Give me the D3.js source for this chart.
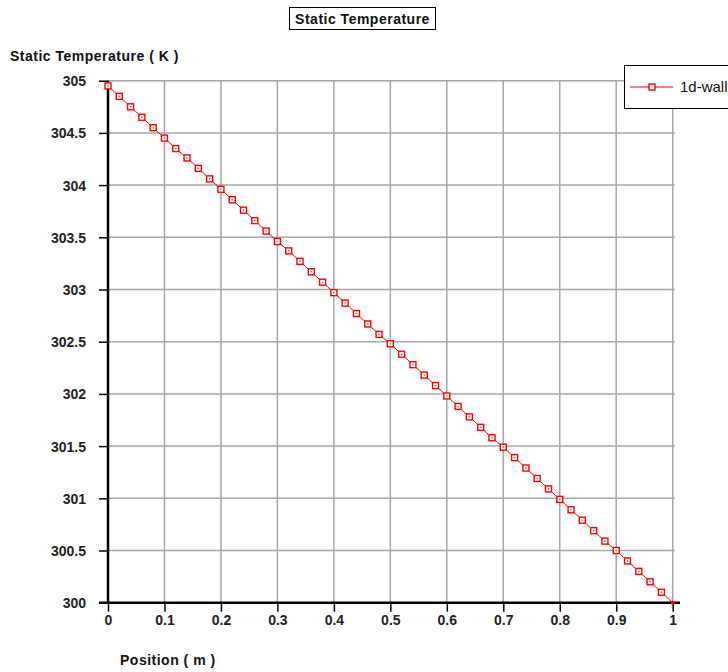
<!DOCTYPE html>
<html>
<head>
<meta charset="utf-8">
<script src="https://cdn.jsdelivr.net/npm/d3@7"></script>
<style>
  body { margin: 0; background: #fff; }
  svg { display: block; font-family: "Liberation Sans", Arial, sans-serif; }
  .bold { font-weight: bold; font-size: 14px; }
  .title { font-weight: bold; font-size: 14px; letter-spacing: 0.5px; }
</style>
</head>
<body>
<svg width="728" height="672"></svg>
<script>
// Data
const positions = [0, 0.02, 0.04, 0.06, 0.08, 0.1, 0.12, 0.14, 0.16, 0.18,
  0.2, 0.22, 0.24, 0.26, 0.28, 0.3, 0.32, 0.34, 0.36, 0.38,
  0.4, 0.42, 0.44, 0.46, 0.48, 0.5, 0.52, 0.54, 0.56, 0.58,
  0.6, 0.62, 0.64, 0.66, 0.68, 0.7, 0.72, 0.74, 0.76, 0.78,
  0.8, 0.82, 0.84, 0.86, 0.88, 0.9, 0.92, 0.94, 0.96, 0.98, 1];
const temps = [304.95, 304.85, 304.75, 304.65, 304.55, 304.45, 304.35, 304.26, 304.16, 304.06,
  303.96, 303.86, 303.76, 303.66, 303.56, 303.46, 303.37, 303.27, 303.17, 303.07,
  302.97, 302.87, 302.77, 302.67, 302.57, 302.48, 302.38, 302.28, 302.18, 302.08,
  301.98, 301.88, 301.78, 301.68, 301.58, 301.49, 301.39, 301.29, 301.19, 301.09,
  300.99, 300.89, 300.79, 300.69, 300.59, 300.50, 300.40, 300.30, 300.20, 300.10, 300.00];
const xTicks = [0, 0.1, 0.2, 0.3, 0.4, 0.5, 0.6, 0.7, 0.8, 0.9, 1];
const yTicks = [300, 300.5, 301, 301.5, 302, 302.5, 303, 303.5, 304, 304.5, 305];
const seriesName = "1d-wall";

const points = positions.map((p, i) => ({x: p, y: temps[i]}));

const svg = d3.select("svg");

const x = d3.scaleLinear().domain([0, 1]).range([108, 672.7]);
const y = d3.scaleLinear().domain([300, 305]).range([602.7, 80.7]);

// grid
svg.append("g").selectAll("line")
  .data(xTicks.slice(1))
  .enter().append("line")
  .attr("x1", d => x(d)).attr("x2", d => x(d))
  .attr("y1", y(305)).attr("y2", y(300))
  .attr("stroke", "#a6a6a6").attr("stroke-width", 1.5);

svg.append("g").selectAll("line")
  .data(yTicks.slice(1))
  .enter().append("line")
  .attr("x1", x(0)).attr("x2", x(1) + 2)
  .attr("y1", d => y(d)).attr("y2", d => y(d))
  .attr("stroke", "#a6a6a6").attr("stroke-width", 1.5);

// axes
const yAxis = svg.append("g")
  .attr("transform", `translate(${x(0)},0)`)
  .call(d3.axisLeft(y).tickValues(yTicks).tickSize(9).tickPadding(13).tickFormat(d => d))
yAxis.select(".domain").remove();
yAxis.selectAll("line").attr("stroke", "#000").attr("stroke-width", 1.5);
yAxis.selectAll("text").attr("class", "bold").attr("fill", "#222").attr("dy", "0.35em");

const xAxis = svg.append("g")
  .attr("transform", `translate(0,${y(300)})`)
  .call(d3.axisBottom(x).tickValues(xTicks).tickSize(9).tickPadding(3).tickFormat(d => d))
xAxis.select(".domain").remove();
xAxis.selectAll("line").attr("stroke", "#000").attr("stroke-width", 1.5);
xAxis.selectAll("text").attr("class", "bold").attr("fill", "#222");

svg.append("line")
  .attr("x1", x(0)).attr("x2", x(0))
  .attr("y1", y(305)).attr("y2", y(300))
  .attr("stroke", "#000").attr("stroke-width", 2.5);
svg.append("line")
  .attr("x1", x(0) - 9).attr("x2", 680)
  .attr("y1", y(300)).attr("y2", y(300))
  .attr("stroke", "#000").attr("stroke-width", 2.5);

// line + markers
const line = d3.line().x(d => x(d.x)).y(d => y(d.y));
svg.append("path")
  .datum(points)
  .attr("d", line)
  .attr("fill", "none")
  .attr("stroke", "#ff0000")
  .attr("stroke-width", 1);

svg.append("g").selectAll("rect")
  .data(points.slice(0, -1))
  .enter().append("rect")
  .attr("x", d => x(d.x) - 3).attr("y", d => y(d.y) - 3)
  .attr("width", 6).attr("height", 6)
  .attr("fill", "#fff").attr("stroke", "#ff0000").attr("stroke-width", 1.4);
svg.append("g").selectAll("circle")
  .data(points.slice(0, -1))
  .enter().append("circle")
  .attr("cx", d => x(d.x)).attr("cy", d => y(d.y)).attr("r", 0.8)
  .attr("fill", "#ff4040");
const last = points[points.length - 1];
svg.append("circle")
  .attr("cx", x(last.x)).attr("cy", y(last.y)).attr("r", 2)
  .attr("fill", "#ff0000");

// title
svg.append("rect")
  .attr("x", 289.5).attr("y", 7.5).attr("width", 146).attr("height", 22)
  .attr("fill", "#fff").attr("stroke", "#000").attr("stroke-width", 1);
svg.append("text").attr("class", "title")
  .attr("x", 362.5).attr("y", 24).attr("text-anchor", "middle")
  .attr("fill", "#111")
  .text("Static Temperature");

// axis titles
svg.append("text").attr("class", "title")
  .attr("x", 10).attr("y", 61).attr("fill", "#111")
  .text("Static Temperature ( K )");
svg.append("text").attr("class", "title")
  .attr("x", 120).attr("y", 665).attr("fill", "#111")
  .text("Position ( m )");

// legend
const legend = svg.append("g");
legend.append("rect")
  .attr("x", 624.5).attr("y", 65.5).attr("width", 120).attr("height", 43)
  .attr("fill", "#fff").attr("stroke", "#000").attr("stroke-width", 1);
legend.append("line")
  .attr("x1", 630).attr("x2", 673).attr("y1", 87).attr("y2", 87)
  .attr("stroke", "#ff0000").attr("stroke-width", 1);
legend.append("rect")
  .attr("x", 649).attr("y", 84).attr("width", 6).attr("height", 6)
  .attr("fill", "#fff").attr("stroke", "#ff0000").attr("stroke-width", 1.4);
legend.append("text")
  .attr("x", 680).attr("y", 92).attr("font-size", 15).attr("fill", "#111")
  .text(seriesName);
</script>
</body>
</html>
